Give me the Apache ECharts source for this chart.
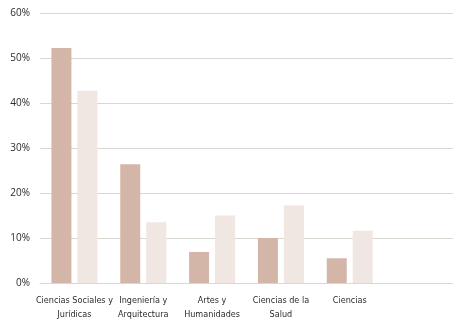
<!DOCTYPE html>
<html>
<head>
<meta charset="utf-8">
<script src="https://cdn.jsdelivr.net/npm/echarts@6/dist/echarts.min.js"></script>
<style>
  html, body { margin: 0; padding: 0; background: #fff; }
  #chart { width: 453px; height: 324px; }
</style>
</head>
<body>
<div id="chart"></div>
<script>
// areas of study (last slot left empty, as in the original)
var categories = ['Ciencias Sociales y\nJurídicas', 'Ingeniería y\nArquitectura', 'Artes y\nHumanidades', 'Ciencias de la\nSalud', 'Ciencias', ''];
var serieA = [52.2, 26.4, 6.9, 10.0, 5.5, null];
var serieB = [42.7, 13.5, 15.0, 17.2, 11.6, null];
var yTicks = [0, 10, 20, 30, 40, 50, 60];

var chart = echarts.init(document.getElementById('chart'), null, { renderer: 'canvas' });

var option = {
	animation: false,
	backgroundColor: '#fff',
	grid: {
		left: 40,
		right: -1,
		top: 13,
		bottom: 41
	},
	xAxis: {
		type: 'category',
		data: categories,
		axisLine: { show: true, lineStyle: { color: '#dcd6d1', width: 1 } },
		axisTick: { show: false },
		axisLabel: {
			interval: 0,
			margin: 11,
			color: '#2b2b2b',
			fontFamily: "'DejaVu Sans Condensed', sans-serif",
			fontSize: 9,
			lineHeight: 14
		}
	},
	yAxis: {
		type: 'value',
		min: yTicks[0],
		max: yTicks[yTicks.length - 1],
		interval: 10,
		axisLine: { show: false },
		axisTick: { show: false },
		axisLabel: {
			margin: 10,
			color: '#2b2b2b',
			fontFamily: "'Open Sans', sans-serif",
			fontSize: 10,
			formatter: '{value}%'
		},
		splitLine: { lineStyle: { color: '#dcd6d1', width: 1 } }
	},
	series: [
		{
			type: 'bar',
			data: serieA,
			barWidth: 20,
			barGap: '30%',
			itemStyle: { color: '#d4b6a8' }
		},
		{
			type: 'bar',
			data: serieB,
			barWidth: 20,
			itemStyle: { color: '#f0e6e2' }
		}
	]
};

chart.setOption(option);
</script>
</body>
</html>
